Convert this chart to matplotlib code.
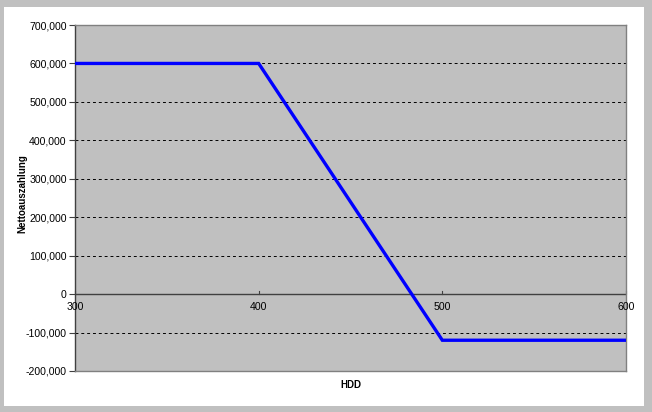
import matplotlib
matplotlib.use("Agg")
import matplotlib.pyplot as plt
from matplotlib.patches import Rectangle
from matplotlib.ticker import FuncFormatter

hdd = [300, 400, 500, 600]
payout = [600000, 600000, -120000, -120000]
x_ticks = [300, 400, 500, 600]
y_ticks = [-200000, -100000, 0, 100000, 200000, 300000, 400000, 500000, 600000, 700000]

plt.rcParams['font.family'] = ['Liberation Sans', 'DejaVu Sans']

W, H = 652, 412
fig = plt.figure(figsize=(W / 100, H / 100), dpi=100)
fig.patch.set_facecolor('#c0c0c0')
fig.patches.append(Rectangle((4 / W, 1 - 406 / H), (644 - 4) / W, (406 - 7) / H,
                             transform=fig.transFigure, facecolor='white',
                             edgecolor='none', zorder=-10))

ax = fig.add_axes([75 / W, 1 - 371 / H, (626 - 75) / W, (371 - 25) / H])
ax.set_zorder(1)
ax.set_facecolor('#c0c0c0')
ax.set_xlim(300, 600)
ax.set_ylim(-200000, 700000)

for yv in y_ticks:
    if yv not in (0, -200000, 700000):
        ax.axhline(yv, color='black', linestyle=(0, (3, 3)), linewidth=0.7, zorder=1)

ax.plot(hdd, payout, color='#0000ff', linewidth=2.4, zorder=3, solid_joinstyle='miter')

for s in ['top', 'right', 'bottom']:
    ax.spines[s].set_color('#808080')
    ax.spines[s].set_linewidth(1.0)
ax.spines['left'].set_color('#404040')
ax.spines['left'].set_linewidth(1.0)
ax.axhline(0, color='#404040', linewidth=1.0, zorder=2)

ax.set_xticks([])
ax.set_yticks(y_ticks)
ax.yaxis.set_major_formatter(FuncFormatter(lambda v, p: f"{int(v):,}"))
ax.tick_params(axis='y', direction='out', length=4, width=0.8, color='#404040',
               labelsize=7.6, pad=2, labelcolor='black')

for xv in x_ticks:
    ax.plot([xv, xv], [0, 8000], color='#404040', linewidth=0.8, zorder=2, clip_on=False)
    ax.annotate(str(xv), (xv, 0), xytext=(0, -6), textcoords='offset points',
                ha='center', va='top', fontsize=7.6, color='black', annotation_clip=False)

ax.set_xlabel('HDD', fontsize=7, fontweight='bold')
ax.xaxis.set_label_coords(0.5, -0.026)
ax.set_ylabel('Nettoauszahlung', fontsize=7, fontweight='bold')
ax.yaxis.set_label_coords((27 - 75) / (626 - 75), (371 - 194) / 346)

fig.savefig('out.png', dpi=100, facecolor=fig.get_facecolor())
